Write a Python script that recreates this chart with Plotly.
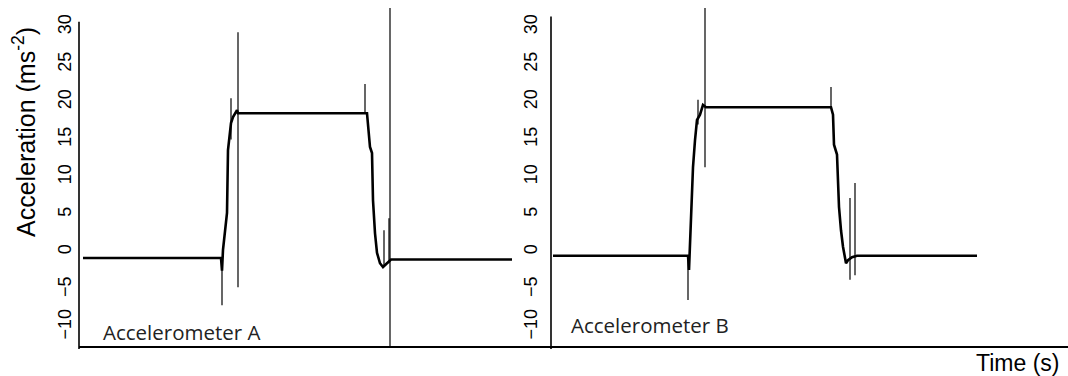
import plotly.graph_objects as go

# ---------------- data (time in s, acceleration in m/s^2) ----------------
# Accelerometer A
time_a = [0.04, 1.42, 1.43, 1.44, 1.48, 1.49, 1.52, 1.54, 1.58, 1.59, 2.86, 2.88,
          2.91, 2.93, 2.94, 2.96, 2.98, 3.01, 3.04, 3.06, 3.08, 3.12, 4.33]
acc_a = [-0.8, -0.8, -2.5, 0.3, 5.2, 13.6, 17.2, 18.0, 18.9, 18.5, 18.5, 18.5,
         14.0, 13.2, 6.9, 2.5, -0.1, -1.5, -2.0, -1.8, -1.5, -1.0, -1.0]
spike_t_a = [1.43, 1.52, 1.59, 2.86, 3.05, 3.10, 3.11]
spike_lo_a = [-7.1, 15.0, -4.7, 18.5, -2.0, -1.5, -14.0]
spike_hi_a = [-0.8, 20.5, 29.3, 22.4, 2.9, 4.5, 35.0]

# Accelerometer B
time_b = [0.02, 1.37, 1.38, 1.39, 1.41, 1.42, 1.44, 1.46, 1.49, 1.52, 1.55, 2.80,
          2.82, 2.83, 2.86, 2.87, 2.88, 2.90, 2.92, 2.95, 2.97, 3.01, 3.06, 4.26]
acc_b = [-0.5, -0.5, -2.4, 0.7, 6.9, 11.3, 14.9, 17.6, 18.3, 19.6, 19.3, 19.3,
         18.3, 14.3, 13.0, 9.5, 6.0, 2.9, 0.7, -1.5, -1.1, -0.7, -0.5, -0.5]
spike_t_b = [1.37, 1.47, 1.54, 2.80, 2.99, 3.04]
spike_lo_b = [-6.4, 17.0, 11.3, 19.3, -3.7, -3.1]
spike_hi_b = [-0.5, 20.3, 35.0, 22.0, 7.2, 9.2]

y_ticks = [-10, -5, 0, 5, 10, 15, 20, 25, 30]
y_range = [-12.53, 32.53]
x_range_a = [0, 4.72]
x_range_b = [0, 5.17]
panel_labels = ["Accelerometer A", "Accelerometer B"]


def spike_xy(ts, los, his):
    xs, ys = [], []
    for t, lo, hi in zip(ts, los, his):
        xs += [t, t, None]
        ys += [lo, hi, None]
    return xs, ys


fig = go.Figure()
sxa, sya = spike_xy(spike_t_a, spike_lo_a, spike_hi_a)
sxb, syb = spike_xy(spike_t_b, spike_lo_b, spike_hi_b)

fig.add_trace(go.Scatter(x=sxa, y=sya, mode="lines", xaxis="x", yaxis="y",
                         line=dict(color="black", width=1.2), showlegend=False))
fig.add_trace(go.Scatter(x=time_a, y=acc_a, mode="lines", xaxis="x", yaxis="y",
                         line=dict(color="black", width=2.6), showlegend=False))
fig.add_trace(go.Scatter(x=sxb, y=syb, mode="lines", xaxis="x2", yaxis="y2",
                         line=dict(color="black", width=1.2), showlegend=False))
fig.add_trace(go.Scatter(x=time_b, y=acc_b, mode="lines", xaxis="x2", yaxis="y2",
                         line=dict(color="black", width=2.6), showlegend=False))

W, H = 1068, 376
ml, mr, mt, mb = 79, 0, 8, 30
plot_w = W - ml - mr
plot_h = H - mt - mb
split = (551 - ml) / plot_w

tickfont = dict(family="Liberation Sans, Arial", size=18, color="black")
common_x = dict(showline=True, linecolor="black", linewidth=1.6, showgrid=False,
                zeroline=False, showticklabels=False, ticks="")
common_y = dict(range=y_range, tickvals=y_ticks, tickangle=-90, tickfont=tickfont,
                showgrid=False, zeroline=False, showline=False, ticks="")

fig.update_layout(
    width=W, height=H,
    margin=dict(l=ml, r=mr, t=mt, b=mb),
    paper_bgcolor="white", plot_bgcolor="white",
    xaxis=dict(domain=[0, split], range=x_range_a, anchor="y", **common_x),
    xaxis2=dict(domain=[split, 1], range=x_range_b, anchor="y2", **common_x),
    yaxis=dict(anchor="x", ticklabelstandoff=3, **common_y),
    yaxis2=dict(anchor="x2", ticklabelstandoff=9, **common_y),
)


def vpaper(v):
    return (v - y_range[0]) / (y_range[1] - y_range[0])


# y-axis lines (slightly overshooting below the x-axis as in the reference)
for xp, top in [(0, 30.7), (split, 31.4)]:
    fig.add_shape(type="line", xref="paper", yref="paper", x0=xp, x1=xp,
                  y0=-0.009, y1=vpaper(top), line=dict(color="black", width=1.6))

fig.add_annotation(text="Acceleration (ms<sup>-2</sup>)", xref="paper", yref="paper",
                   x=(24 - ml) / plot_w, y=(H - mb - 132) / plot_h, textangle=-90,
                   showarrow=False, xanchor="center", yanchor="middle",
                   font=dict(family="Liberation Sans, Arial", size=25, color="black"))
fig.add_annotation(text="Time (s)", xref="paper", yref="paper",
                   x=(1061 - ml) / plot_w, y=(H - mb - 363) / plot_h,
                   showarrow=False, xanchor="right", yanchor="middle",
                   font=dict(family="Liberation Sans, Arial", size=23, color="black"))
for lbl, px, py in [(panel_labels[0], 101, 332), (panel_labels[1], 569, 325)]:
    fig.add_annotation(text=lbl, xref="paper", yref="paper",
                       x=(px - ml) / plot_w, y=(H - mb - py) / plot_h,
                       showarrow=False, xanchor="left", yanchor="middle",
                       font=dict(family="Open Sans", size=20.5, color="#222"))

fig.write_html("out.html")
